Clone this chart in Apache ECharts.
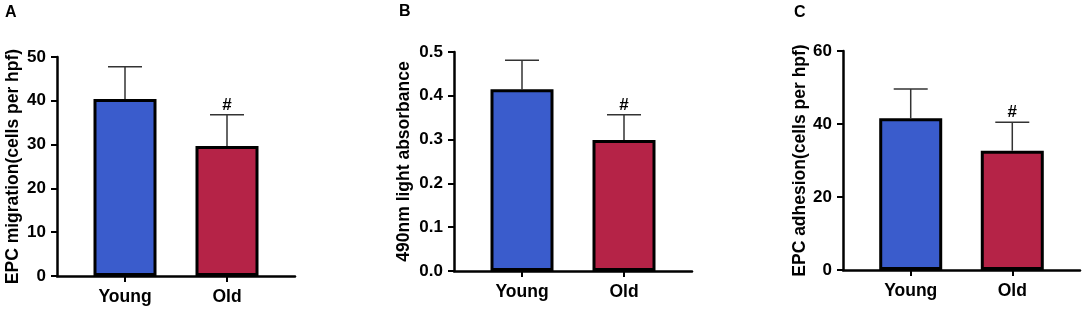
<!DOCTYPE html>
<html>
<head>
<meta charset="utf-8">
<script src="https://cdn.jsdelivr.net/npm/echarts@6/dist/echarts.min.js"></script>
<style>
  html, body { margin: 0; padding: 0; background: #fff; }
  #chart { width: 1084px; height: 313px; }
</style>
</head>
<body>
<div id="chart"></div>
<script>
// groups and their position on the x axis (0..7)
var groups = ["Young", "Old"];
var groupPos = [2, 5];
var groupColors = ["#3a5ccc", "#b52347"];

// A: EPC migration
var migrationMean = [40.4, 29.7];
var migrationSd = [7.4, 7.1];
// B: 490nm light absorbance
var absorbMean = [0.415, 0.299];
var absorbSd = [0.066, 0.058];
// C: EPC adhesion
var adhesionMean = [41.6, 32.7];
var adhesionSd = [8.0, 7.8];

// '#' = significant vs young
var marks = ["", "#"];

var panelLetters = ["A", "B", "C"];
var yNames = ["EPC migration(cells per hpf)", "490nm light absorbance", "EPC adhesion(cells per hpf)"];
var yMax = [50, 0.5, 60];
var yStep = [10, 0.1, 20];

var FONT = "'Liberation Sans', Arial, sans-serif";

// layout of the three panels
var grids = [
  { left: 57, top: 57, width: 238, height: 219 },
  { left: 454, top: 52, width: 238, height: 219 },
  { left: 843, top: 51, width: 237, height: 219 }
];
var letterPos = [[5, 5], [399, 4], [794, 5]];
var nameGaps = [35, 41, 33];

var panels = [
  { mean: migrationMean, sd: migrationSd },
  { mean: absorbMean, sd: absorbSd },
  { mean: adhesionMean, sd: adhesionSd }
];

var axisLine = { show: true, lineStyle: { color: "#000", width: 2.5 } };
var axisTick = { show: true, length: 6, lineStyle: { color: "#000", width: 2 } };

var option = {
  animation: false,
  backgroundColor: "#fff",
  title: panelLetters.map(function (t, i) {
    return {
      text: t, left: letterPos[i][0], top: letterPos[i][1], padding: 0,
      textStyle: { fontFamily: FONT, fontWeight: "bold", fontSize: 16, color: "#000" }
    };
  }),
  grid: grids,
  xAxis: grids.map(function (g, i) {
    return {
      type: "value", gridIndex: i, min: 0, max: 7,
      splitLine: { show: false },
      axisLine: axisLine,
      axisTick: { show: true, length: 6, lineStyle: { color: "#000", width: 2 }, customValues: groupPos },
      axisLabel: {
        customValues: groupPos, margin: 12,
        fontFamily: FONT, fontWeight: "bold", fontSize: 17.5, color: "#000",
        formatter: function (v) { return groups[groupPos.indexOf(v)] || ""; }
      }
    };
  }),
  yAxis: grids.map(function (g, i) {
    return {
      type: "value", gridIndex: i, min: 0, max: yMax[i], interval: yStep[i],
      name: yNames[i], nameLocation: "middle", nameRotate: 90, nameGap: nameGaps[i],
      nameTextStyle: { fontFamily: FONT, fontWeight: "bold", fontSize: 17.5, color: "#000" },
      splitLine: { show: false },
      axisLine: axisLine,
      axisTick: axisTick,
      axisLabel: {
        margin: 11, fontFamily: FONT, fontWeight: "bold", fontSize: 17, color: "#000",
        formatter: function (v) { return i === 1 ? v.toFixed(1) : String(v); }
      }
    };
  }),
  series: []
};

panels.forEach(function (p, i) {
  option.series.push({
    type: "bar", xAxisIndex: i, yAxisIndex: i, barWidth: 63,
    data: p.mean.map(function (m, k) {
      return {
        value: [groupPos[k], m],
        itemStyle: { color: groupColors[k], borderColor: "#000", borderWidth: 3 }
      };
    }),
    z: 3
  });
  option.series.push({
    type: "custom", xAxisIndex: i, yAxisIndex: i, z: 2,
    data: p.mean.map(function (m, k) { return [groupPos[k], m, p.sd[k], marks[k]]; }),
    renderItem: function (params, api) {
      var x = api.value(0), m = api.value(1), s = api.value(2);
      var base = api.coord([x, m]);
      var top = api.coord([x, m + s]);
      var style = { stroke: "#333", lineWidth: 1.5 };
      var children = [
        { type: "line", shape: { x1: base[0], y1: base[1], x2: top[0], y2: top[1] }, style: style },
        { type: "line", shape: { x1: top[0] - 17, y1: top[1], x2: top[0] + 17, y2: top[1] }, style: style }
      ];
      var mk = marks[params.dataIndex];
      if (mk) {
        children.push({
          type: "text",
          style: {
            text: mk, x: top[0], y: top[1] - 1, align: "center", verticalAlign: "bottom",
            font: "bold 17px " + FONT, fill: "#000"
          }
        });
      }
      return { type: "group", children: children };
    }
  });
});

var chart = echarts.init(document.getElementById("chart"));
chart.setOption(option);
</script>
</body>
</html>
